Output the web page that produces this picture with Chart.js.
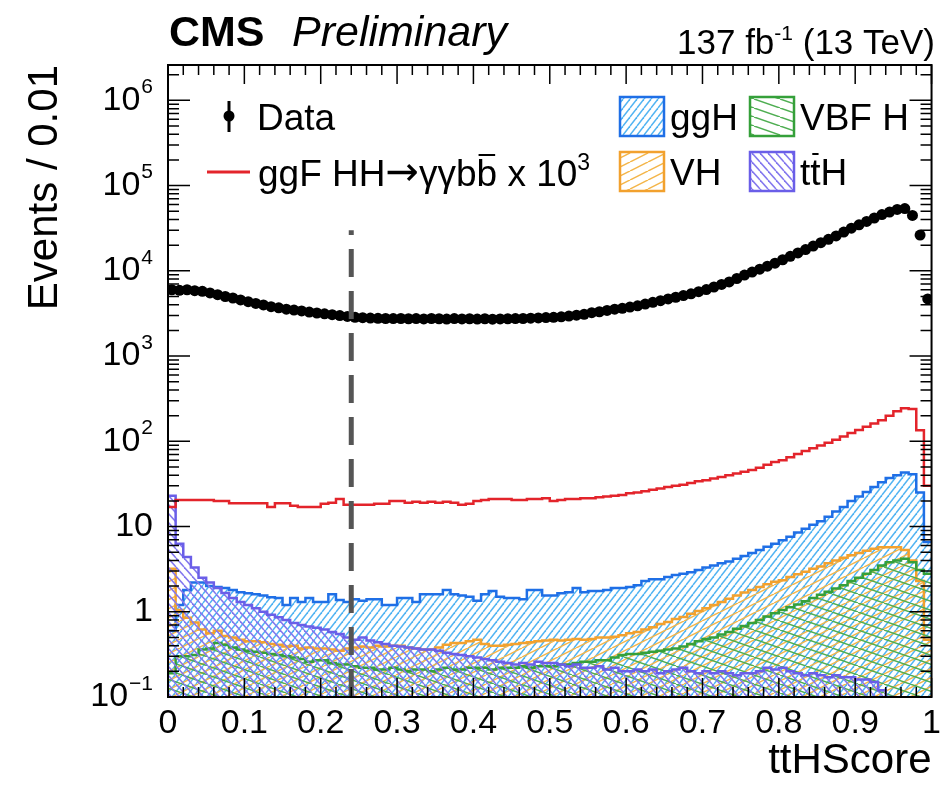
<!DOCTYPE html>
<html>
<head>
<meta charset="utf-8">
<script src="https://cdn.jsdelivr.net/npm/chart.js@4.4.1/dist/chart.umd.min.js"></script>
<style>
  html, body { margin: 0; padding: 0; background: #fff; }
  canvas { display: block; }
</style>
</head>
<body>
<canvas id="plot" width="947" height="787"></canvas>
<script>
// binning of ttHScore: 100 bins of 0.01
const nBins = 100;
const binWidth = 0.01;

// data, events per bin
const data = [
  6000, 5900, 6000, 5850, 5750, 5500, 5250, 5000, 4800, 4550,
  4350, 4150, 3980, 3800, 3680, 3550, 3470, 3390, 3280, 3200,
  3130, 3060, 2990, 2920, 2850, 2820, 2790, 2770, 2760, 2750,
  2760, 2740, 2750, 2730, 2760, 2740, 2720, 2750, 2730, 2740,
  2720, 2740, 2710, 2730, 2740, 2750, 2760, 2780, 2800, 2830,
  2850, 2890, 2950, 3020, 3090, 3230, 3310, 3430, 3550, 3630,
  3760, 3890, 4070, 4270, 4470, 4680, 4900, 5130, 5370, 5690,
  6030, 6460, 6920, 7410, 8130, 8910, 9660, 10470, 11350, 12300,
  13490, 14790, 16220, 17780, 19500, 21380, 23440, 25700, 28510, 31620,
  34670, 38020, 41690, 45710, 48980, 52480, 53700, 44670, 26300, 4680
];

// ggF HH -> gg bb signal, scaled x 10^3
const hhSignal = [
  17, 20.5, 20.5, 20.5, 20.5, 20.5, 20, 20, 18.7, 18.7,
  18.7, 18.7, 18.7, 17, 18.7, 18.7, 17.5, 17, 17, 17,
  18.5, 19, 21, 18, 18, 18, 18, 18.5, 18.5, 20,
  20, 19, 19.5, 19, 19.5, 19, 19.5, 19, 18, 18.5,
  20, 20.5, 21, 21, 21, 20.5, 20.5, 21, 21, 21.5,
  20, 20.5, 21, 21, 21.5, 21.5, 22, 22.5, 23, 23.5,
  24.5, 25, 26, 27, 28, 29, 30, 31, 32.5, 34,
  35, 36.5, 38, 40, 42, 44, 46, 49, 53, 57,
  60, 65, 71, 77, 83, 89, 96, 104, 114, 125,
  136, 148, 162, 177, 200, 225, 245, 240, 135, 30
];

const ggH = [
  0.6, 1.2, 1.8, 2.2, 2.2, 2.0, 1.95, 1.9, 1.8, 1.7,
  1.65, 1.6, 1.55, 1.48, 1.45, 1.2, 1.45, 1.3, 1.45, 1.3,
  1.3, 1.6, 1.37, 1.3, 1.4, 1.35, 1.4, 1.4, 1.2, 1.2,
  1.45, 1.45, 1.3, 1.6, 1.6, 1.6, 1.8, 1.6, 1.55, 1.5,
  1.35, 1.6, 1.75, 1.5, 1.45, 1.45, 1.4, 1.8, 1.8, 1.55,
  1.55, 1.65, 1.7, 1.9, 1.7, 1.75, 1.75, 1.8, 1.9, 1.9,
  1.95, 2.05, 2.3, 2.4, 2.4, 2.55, 2.7, 2.8, 2.9, 3.1,
  3.3, 3.5, 3.7, 3.9, 4.2, 4.5, 4.9, 5.3, 5.8, 6.3,
  6.9, 7.6, 8.5, 9.4, 10.5, 11.5, 13, 15, 17, 20,
  22.5, 25.5, 29, 33, 37, 40, 43, 41, 25, 6.6
];

const vh = [
  3.2, 1.05, 0.85, 0.75, 0.62, 0.56, 0.6, 0.52, 0.5, 0.47,
  0.45, 0.45, 0.44, 0.42, 0.41, 0.39, 0.4, 0.37, 0.38, 0.37,
  0.37, 0.36, 0.35, 0.37, 0.38, 0.39, 0.38, 0.4, 0.39, 0.4,
  0.4, 0.38, 0.37, 0.36, 0.36, 0.38, 0.41, 0.43, 0.43, 0.45,
  0.47, 0.42, 0.4, 0.4, 0.41, 0.42, 0.43, 0.44, 0.45, 0.46,
  0.47, 0.46, 0.47, 0.48, 0.47, 0.48, 0.5, 0.5, 0.51, 0.53,
  0.56, 0.58, 0.62, 0.66, 0.72, 0.76, 0.82, 0.87, 0.95, 1.02,
  1.1, 1.2, 1.3, 1.42, 1.55, 1.68, 1.8, 1.95, 2.1, 2.25,
  2.35, 2.55, 2.75, 2.95, 3.2, 3.4, 3.7, 4.0, 4.3, 4.6,
  4.9, 5.2, 5.5, 5.7, 5.7, 5.7, 5.3, 4.0, 2.3, 0.47
];

const vbf = [
  0.19, 0.3, 0.3, 0.31, 0.36, 0.37, 0.43, 0.41, 0.38, 0.36,
  0.35, 0.34, 0.33, 0.32, 0.31, 0.3, 0.29, 0.28, 0.26, 0.27,
  0.27, 0.25, 0.24, 0.24, 0.23, 0.22, 0.22, 0.21, 0.21, 0.22,
  0.21, 0.2, 0.21, 0.21, 0.2, 0.21, 0.22, 0.21, 0.21, 0.22,
  0.22, 0.22, 0.21, 0.22, 0.22, 0.22, 0.23, 0.22, 0.23, 0.23,
  0.23, 0.24, 0.24, 0.25, 0.26, 0.26, 0.27, 0.27, 0.29, 0.31,
  0.32, 0.32, 0.33, 0.34, 0.35, 0.36, 0.37, 0.39, 0.42, 0.45,
  0.48, 0.5, 0.54, 0.58, 0.63, 0.68, 0.74, 0.8, 0.88, 0.96,
  1.05, 1.13, 1.22, 1.33, 1.45, 1.58, 1.72, 1.88, 2.05, 2.3,
  2.5, 2.8, 3.1, 3.5, 3.8, 4.0, 4.2, 3.8, 3.1, 2.8
];

const ttH = [
  23, 6.3, 4.4, 3.3, 2.5, 2.2, 1.9, 1.66, 1.45, 1.3,
  1.2, 1.1, 1.0, 0.92, 0.86, 0.8, 0.74, 0.7, 0.67, 0.65,
  0.62, 0.58, 0.55, 0.5, 0.47, 0.5, 0.46, 0.44, 0.42, 0.4,
  0.39, 0.38, 0.37, 0.36, 0.36, 0.35, 0.33, 0.32, 0.31, 0.3,
  0.29, 0.28, 0.27, 0.26, 0.25, 0.24, 0.25, 0.24, 0.26, 0.25,
  0.25, 0.24, 0.23, 0.24, 0.22, 0.22, 0.23, 0.21, 0.22, 0.2,
  0.2, 0.21, 0.2, 0.21, 0.19, 0.2, 0.21, 0.22, 0.2, 0.19,
  0.2, 0.19, 0.2, 0.19, 0.18, 0.19, 0.19, 0.2, 0.22, 0.21,
  0.22, 0.2, 0.19, 0.18, 0.19, 0.18, 0.17, 0.18, 0.17, 0.17,
  0.16, 0.16, 0.15, 0.12, 0.1, 0.08, 0.07, 0.06, 0.05, 0.05
];

// category boundary on ttHScore
const cutValue = 0.24;
const cutTop = 3e4;

const yMin = 0.1;
const yMax = 2.6e6;
const yDecades = [-1, 0, 1, 2, 3, 4, 5, 6];

const FONT = '"Liberation Sans", Arial, sans-serif';

function hatch(color, w, h, rising) {
  const c = document.createElement('canvas');
  c.width = w; c.height = h;
  const g = c.getContext('2d');
  g.strokeStyle = color;
  g.lineWidth = 1.5;
  for (let k = -1; k <= 1; k++) {
    g.beginPath();
    if (rising) { g.moveTo(k * w, h); g.lineTo((k + 1) * w, 0); }
    else { g.moveTo(k * w, 0); g.lineTo((k + 1) * w, h); }
    g.stroke();
  }
  return g.createPattern(c, 'repeat');
}

const ggHFill = hatch('#52b4f2', 7, 9, true);
const vhFill = hatch('#f4b64a', 18, 9, true);
const vbfFill = hatch('#4fae52', 26, 9, false);
const ttHFill = hatch('#8478ee', 8, 9, false);

// points on the bin edges; the value of bin i holds from edge i to edge i+1
function steps(vals) {
  const pts = vals.map((v, i) => ({ x: i * binWidth, y: v }));
  pts.push({ x: nBins * binWidth, y: vals[vals.length - 1] });
  return pts;
}

function histo(label, vals, line, fill, order) {
  return {
    label: label, data: steps(vals), stepped: 'before',
    borderColor: line, borderWidth: 2.5, backgroundColor: fill,
    fill: fill ? 'start' : false, pointRadius: 0, order: order, clip: 0
  };
}

// draws text pieces one after another: [text, font, raise, overline]
function runs(ctx, x, y, parts, rightEdge) {
  const fontOf = p => p[1].indexOf('"') >= 0 ? p[1] : p[1] + ' ' + FONT;
  ctx.textAlign = 'left';
  ctx.textBaseline = 'alphabetic';
  if (rightEdge !== undefined) {
    let w = 0;
    parts.forEach(p => { ctx.font = fontOf(p); w += ctx.measureText(p[0]).width; });
    x = rightEdge - w;
  }
  parts.forEach(p => {
    ctx.font = fontOf(p);
    const w = ctx.measureText(p[0]).width;
    ctx.fillText(p[0], x, y + (p[2] || 0));
    if (p[3]) {
      ctx.lineWidth = 2;
      ctx.beginPath();
      ctx.moveTo(x + 2, y - 31); ctx.lineTo(x + w - 2, y - 31);
      ctx.stroke();
    }
    x += w;
  });
}

// frame, inward ticks, labels, header and legend, as the ROOT style draws them
const rootStyle = {
  id: 'rootStyle',
  beforeDraw(chart) {
    const ctx = chart.ctx;
    ctx.save();
    ctx.fillStyle = '#fff';
    ctx.fillRect(0, 0, chart.width, chart.height);
    ctx.restore();
  },
  afterDraw(chart) {
    const ctx = chart.ctx;
    const a = chart.chartArea;
    const xs = chart.scales.x, ys = chart.scales.y;
    ctx.save();
    ctx.strokeStyle = '#000';
    ctx.fillStyle = '#000';

    // ticks
    ctx.lineWidth = 1.5;
    for (let i = 0; i <= 50; i++) {
      const px = xs.getPixelForValue(i * 0.02);
      const len = i % 5 === 0 ? 19 : 10;
      ctx.beginPath();
      ctx.moveTo(px, a.bottom); ctx.lineTo(px, a.bottom - len);
      ctx.moveTo(px, a.top); ctx.lineTo(px, a.top + len);
      ctx.stroke();
    }
    for (let d = -1; d <= 6; d++) {
      for (let m = 1; m <= 9; m++) {
        const v = m * Math.pow(10, d);
        if (v > yMax) break;
        const py = ys.getPixelForValue(v);
        const len = m === 1 ? 22 : 11;
        ctx.beginPath();
        ctx.moveTo(a.left, py); ctx.lineTo(a.left + len, py);
        ctx.moveTo(a.right, py); ctx.lineTo(a.right - len, py);
        ctx.stroke();
      }
    }
    ctx.lineWidth = 2;
    ctx.strokeRect(a.left, a.top, a.right - a.left, a.bottom - a.top);

    // y tick labels with exponents
    ctx.textBaseline = 'middle';
    yDecades.forEach(d => {
      const py = ys.getPixelForValue(Math.pow(10, d));
      const right = 153;
      if (d === 0 || d === 1) {
        ctx.font = '34px ' + FONT;
        ctx.textAlign = 'right';
        ctx.fillText(d === 0 ? '1' : '10', right, py);
        return;
      }
      const exp = d < 0 ? '\u2212' + (-d) : String(d);
      ctx.font = '21px ' + FONT;
      const ew = ctx.measureText(exp).width;
      ctx.textAlign = 'left';
      ctx.fillText(exp, right - ew, py - 13);
      ctx.font = '34px ' + FONT;
      ctx.textAlign = 'right';
      ctx.fillText('10', right - ew - 1, py);
    });

    // header
    ctx.textBaseline = 'alphabetic';
    ctx.textAlign = 'left';
    ctx.font = 'bold 43px ' + FONT;
    ctx.fillText('CMS', 169, 46);
    ctx.font = 'italic 43px ' + FONT;
    ctx.fillText('Preliminary', 292, 46);
    runs(ctx, 0, 54, [
      ['137 fb', '35px'], ['-1', '21px', -14], [' (13 TeV)', '35px']
    ], 935);

    // legend: data and signal
    ctx.lineWidth = 3;
    ctx.beginPath();
    ctx.moveTo(229, 101); ctx.lineTo(229, 132);
    ctx.stroke();
    ctx.beginPath();
    ctx.arc(229, 116, 5.5, 0, Math.PI * 2);
    ctx.fill();
    runs(ctx, 257, 130, [['Data', '37px']]);

    ctx.strokeStyle = '#e3242b';
    ctx.beginPath();
    ctx.moveTo(207, 172); ctx.lineTo(250, 172);
    ctx.stroke();
    ctx.strokeStyle = '#000';
    runs(ctx, 258, 186, [
      ['ggF HH', '37px'], ['\u2192', '40px "DejaVu Sans", sans-serif', -1],
      ['\u03b3\u03b3b', '37px'], ['b', '37px', 0, true],
      [' x 10', '37px'], ['3', '23px', -16]
    ]);

    // legend: hatched boxes
    const boxes = [
      [620, 97, ggHFill, '#1f6fe6', [['ggH', '37px']]],
      [750, 97, vbfFill, '#35a03a', [['VBF H', '37px']]],
      [620, 152, vhFill, '#f2a12e', [['VH', '37px']]],
      [750, 152, ttHFill, '#6a5ee8', [['t', '37px'], ['t', '37px', 0, true], ['H', '37px']]]
    ];
    boxes.forEach(([bx, by, pat, col, txt]) => {
      ctx.fillStyle = pat;
      ctx.fillRect(bx, by, 44, 39);
      ctx.strokeStyle = col;
      ctx.lineWidth = 2.5;
      ctx.strokeRect(bx, by, 44, 39);
      ctx.fillStyle = '#000';
      ctx.strokeStyle = '#000';
      runs(ctx, bx + 50, by + 33, txt);
    });
    ctx.restore();
  }
};

new Chart(document.getElementById('plot'), {
  type: 'line',
  data: {
    datasets: [
      {
        label: 'cut', data: [{ x: cutValue, y: yMin }, { x: cutValue, y: cutTop }],
        borderColor: '#555', borderWidth: 5, borderDash: [28, 14],
        pointRadius: 0, fill: false, order: 0, clip: 0
      },
      {
        label: 'Data', data: data.map((v, i) => ({ x: (i + 0.5) * binWidth, y: v })),
        showLine: false, pointRadius: 5.5, pointBackgroundColor: '#000',
        pointBorderWidth: 0, order: 1
      },
      histo('ggF HH', hhSignal, '#e3242b', null, 2),
      histo('ttH', ttH, '#6a5ee8', ttHFill, 3),
      histo('VBF H', vbf, '#35a03a', vbfFill, 4),
      histo('VH', vh, '#f2a12e', vhFill, 5),
      histo('ggH', ggH, '#1f6fe6', ggHFill, 6)
    ]
  },
  options: {
    responsive: false,
    animation: false,
    devicePixelRatio: 1,
    layout: { padding: { top: 65, right: 12, left: 0, bottom: 0 } },
    plugins: { legend: { display: false }, tooltip: { enabled: false } },
    scales: {
      x: {
        type: 'linear', min: 0, max: 1,
        grid: { display: false, drawTicks: false },
        border: { display: false },
        ticks: {
          stepSize: 0.1, padding: 6, color: '#000',
          font: { size: 34, family: FONT },
          callback: v => (v === 0 || v === 1) ? String(v) : v.toFixed(1)
        },
        title: {
          display: true, text: 'ttHScore', align: 'end', color: '#000',
          font: { size: 42, family: FONT },
          padding: { top: 0, bottom: 0 }
        },
        afterFit: s => { s.height = 90; }
      },
      y: {
        type: 'logarithmic', min: yMin, max: yMax,
        grid: { display: false, drawTicks: false },
        border: { display: false },
        ticks: { display: false },
        title: {
          display: true, text: 'Events / 0.01', align: 'end', color: '#000',
          font: { size: 42, family: FONT },
          padding: { top: 20, bottom: 0 }
        },
        afterFit: s => { s.width = 168; }
      }
    }
  },
  plugins: [rootStyle]
});
</script>
</body>
</html>
